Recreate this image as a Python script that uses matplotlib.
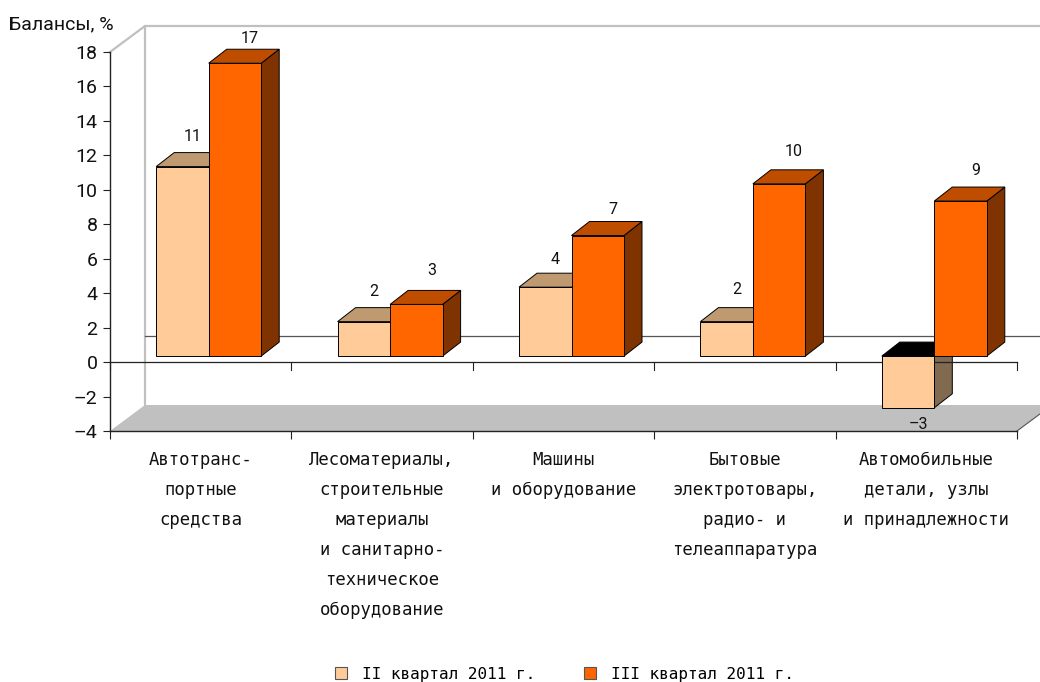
import matplotlib

matplotlib.use("Agg")

import matplotlib.pyplot as plt
from matplotlib.patches import Patch, Polygon

CATEGORIES = [
    "Автотранс-\nпортные\nсредства",
    "Лесоматериалы,\nстроительные\nматериалы\nи санитарно-\nтехническое\nоборудование",
    "Машины\nи оборудование",
    "Бытовые\nэлектротовары,\nрадио- и\nтелеаппаратура",
    "Автомобильные\nдетали, узлы\nи принадлежности",
]
Q2_VALUES = [11, 2, 4, 2, -3]
Q3_VALUES = [17, 3, 7, 10, 9]
Q2_LABEL = "II квартал 2011 г."
Q3_LABEL = "III квартал 2011 г."
Y_TICKS = list(range(-4, 20, 2))
Y_TICK_LABELS = ["–4", "–2", "0", "2", "4", "6", "8", "10", "12", "14", "16", "18"]

# layout, in units of the axes
PX_X = 5 / 907
PX_Y = 22 / 379
WALL_DX = 35 * PX_X
WALL_DY = 26 * PX_Y
BAR_DX = 18 * PX_X
BAR_DY = 14 * PX_Y
BAR_W = 52.5 * PX_X
SHIFT_X = 8 * PX_X
SHIFT_Y = 6 * PX_Y
# how far the value labels sit from the bar end, pixels
Q2_LIFT = [30, 30, 28, 32, -17]
Q3_LIFT = [25, 34, 26, 32, 31]

NARROW = "Roboto"
MONO = "DejaVu Sans Mono"
LINE = "#222222"
GREY = "#c0c0c0"

fig = plt.figure(figsize=(10.4, 6.82), dpi=100)
ax = fig.add_axes([110 / 1040, 1 - 431 / 682, 907 / 1040, 379 / 682])
ax.set_xlim(0, 5)
ax.set_ylim(-4, 18)
ax.spines["top"].set_visible(False)
ax.spines["right"].set_visible(False)
for name in ("left", "bottom"):
    ax.spines[name].set_color(LINE)
    ax.spines[name].set_zorder(2)
    ax.spines[name].set_linewidth(1)

ax.set_yticks(Y_TICKS, Y_TICK_LABELS, fontsize=14, family=NARROW, color="#111111")
ax.tick_params(axis="y", length=5, width=0.8, color=LINE, pad=4)
ax.set_xticks(range(6), [""] * 6)
ax.tick_params(axis="x", length=5.8, width=0.8, color=LINE)

for i, name in enumerate(CATEGORIES):
    ax.annotate(
        name,
        (i + 0.5, -4),
        xytext=(0, -20 * 0.72),
        textcoords="offset points",
        ha="center",
        va="top",
        multialignment="center",
        fontsize=12.4,
        family=MONO,
        linespacing=1.86,
        color="#111111",
        annotation_clip=False,
    )

# back wall and floor
ax.add_patch(Polygon(
    [(0, -4), (WALL_DX, -4 + WALL_DY), (5 + WALL_DX, -4 + WALL_DY), (5, -4)],
    closed=True, facecolor=GREY, edgecolor="none", zorder=1, clip_on=False,
))
ax.plot([5, 5 + WALL_DX], [-4, -4 + WALL_DY], color="#555555", lw=0.8, zorder=1.2, clip_on=False)
ax.plot([0, WALL_DX, WALL_DX], [18, 18 + WALL_DY, -4 + WALL_DY], color=GREY, lw=1.6, zorder=1, clip_on=False)
ax.plot([WALL_DX, 5 + WALL_DX], [18 + WALL_DY] * 2, color=GREY, lw=1.6, zorder=1, clip_on=False)
ax.plot([WALL_DX, 5 + WALL_DX], [WALL_DY] * 2, color="#555555", lw=0.9, zorder=1, clip_on=False)
ax.plot([0, 5], [0, 0], color=LINE, lw=0.9, zorder=3.5, clip_on=False)
for i in range(6):
    ax.plot([i, i], [0, -8 * PX_Y], color=LINE, lw=0.8, zorder=1.5, clip_on=False)


def draw_bar(x, value, face, top, side, z):
    y0 = SHIFT_Y
    y1 = SHIFT_Y + value
    hi = max(y0, y1)
    lo = min(y0, y1)
    ax.add_patch(Polygon(
        [(x + BAR_W, lo), (x + BAR_W + BAR_DX, lo + BAR_DY), (x + BAR_W + BAR_DX, hi + BAR_DY), (x + BAR_W, hi)],
        closed=True, facecolor=side, edgecolor="black", lw=0.7, zorder=z, clip_on=False,
    ))
    ax.add_patch(Polygon(
        [(x, hi), (x + BAR_DX, hi + BAR_DY), (x + BAR_W + BAR_DX, hi + BAR_DY), (x + BAR_W, hi)],
        closed=True, facecolor=top, edgecolor="black", lw=0.7, zorder=z, clip_on=False,
    ))
    ax.bar(x, value, BAR_W, bottom=y0, align="edge", color=face, edgecolor="black", lw=0.7, zorder=z + 0.6, clip_on=False)


for i, (v2, v3) in enumerate(zip(Q2_VALUES, Q3_VALUES)):
    x_mid = i + 0.5 + SHIFT_X
    top2 = "black" if v2 < 0 else "#bf9a70"
    draw_bar(x_mid - BAR_W, v2, "#ffcc99", top2, "#806a50", 3)
    draw_bar(x_mid, v3, "#ff6600", "#bf4d00", "#7f3300", 5)

    labels = ((v2, x_mid - BAR_W / 2, 10, Q2_LIFT[i]), (v3, x_mid + BAR_W / 2, 15, Q3_LIFT[i]))
    for val, x_bar, nudge, lift in labels:
        ax.annotate(
            str(val).replace("-", "–"),
            (x_bar, SHIFT_Y + val),
            xytext=(nudge * 0.72, lift * 0.72),
            textcoords="offset points",
            ha="center",
            va="center",
            fontsize=11.5,
            family=NARROW,
            color="#111111",
            zorder=8,
            annotation_clip=False,
        )

fig.text(9 / 1040, 1 - 24 / 682, "Балансы, %", fontsize=14, family=NARROW, color="#111111", va="center")

handles = [
    Patch(facecolor="#ffcc99", edgecolor="#555555", lw=0.8),
    Patch(facecolor="#ff6600", edgecolor="#555555", lw=0.8),
]
fig.legend(
    handles,
    [Q2_LABEL, Q3_LABEL],
    loc="center",
    bbox_to_anchor=(564.5 / 1040, 1 - 674 / 682),
    ncol=2,
    frameon=False,
    handlelength=0.75,
    handleheight=0.75,
    handletextpad=0.95,
    columnspacing=3.0,
    prop={"family": MONO, "size": 11.55},
)

fig.savefig("out.png", dpi=100)
